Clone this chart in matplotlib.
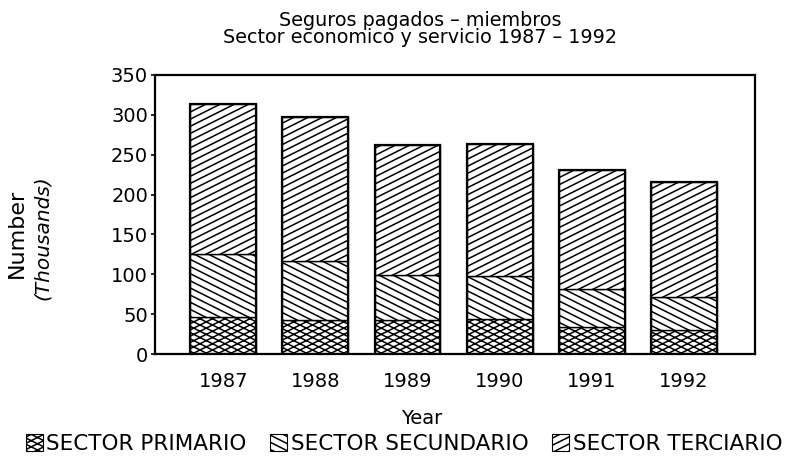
import warnings
warnings.filterwarnings("ignore")
import matplotlib
matplotlib.use("Agg")
import matplotlib.pyplot as plt
import matplotlib.hatch as mhatch
from matplotlib.path import Path
from matplotlib.patches import Patch
import numpy as np

years = ["1987", "1988", "1989", "1990", "1991", "1992"]
primario = [47, 43, 43, 44, 34, 30]
secundario = [79, 74, 56, 54, 48, 41]
terciario = [187, 180, 163, 166, 149, 145]
series_names = ["SECTOR PRIMARIO", "SECTOR SECUNDARIO", "SECTOR TERCIARIO"]
yticks = [0, 50, 100, 150, 200, 250, 300, 350]


class ShallowHatch(mhatch.HatchPatternBase):
    """Shallow (slope 1/2) line hatches: 'r' rising, 'l' falling, 'c' cross."""
    def __init__(self, hatch, density):
        segs = []
        def add(n, sign):
            for k in range(-2 * n, 2 * n + 1):
                c = k / n
                y1 = c + sign * 0.5
                if max(c, y1) < 0 or min(c, y1) > 1:
                    continue
                segs.append(((0.0, c), (1.0, y1)))
        if 'r' in hatch:
            add(14, 1)
        if 'l' in hatch:
            add(14, -1)
        if 'c' in hatch:
            add(16, 1)
            add(16, -1)
        self.segs = segs
        self.num_vertices = 2 * len(segs)

    def set_vertices_and_codes(self, vertices, codes):
        for i, (a, b) in enumerate(self.segs):
            vertices[2 * i] = a
            vertices[2 * i + 1] = b
            codes[2 * i] = Path.MOVETO
            codes[2 * i + 1] = Path.LINETO


mhatch._hatch_types.append(ShallowHatch)

plt.rcParams['font.family'] = ['DejaVu Sans']
plt.rcParams['hatch.linewidth'] = 1.1

fig = plt.figure(figsize=(8.04, 4.58), dpi=100)
ax = fig.add_axes([155/804, 1-354/458, 600/804, 279/458])

x = np.arange(len(years))
w = 0.715
hatches = ["c", "l", "r"]
series = [primario, secundario, terciario]
bottom = np.zeros(len(years))
for vals, h in zip(series, hatches):
    ax.bar(x, vals, width=w, bottom=bottom, facecolor="white", edgecolor="black",
           hatch=h, linewidth=1.0)
    bottom += np.array(vals)
ax.bar(x, bottom, width=w, facecolor="none", edgecolor="black", linewidth=1.6)

ax.set_xlim(-0.74, 5.77)
ax.set_ylim(0, 350)
ax.set_yticks(yticks)
ax.set_xticks(x)
ax.set_xticklabels(years)
ax.tick_params(axis='x', length=0, pad=13, labelsize=14)
ax.tick_params(axis='y', length=3, width=1.2, direction='out', pad=2, labelsize=14)
for s in ax.spines.values():
    s.set_linewidth(1.6)

fig.text(420/804, 1-29/458, "Seguros pagados – miembros\nSector economico y servicio 1987 – 1992",
         ha='center', va='center', fontsize=13.8, linespacing=0.85)

fig.text(17/804, 1-233/458, "Number", rotation=90, ha='center', va='center', fontsize=16)
fig.text(42/804, 1-238/458, "(Thousands)", rotation=90, ha='center', va='center', fontsize=14.5,
         style='italic')

fig.text(422/804, 1-419/458, "Year", ha='center', va='center', fontsize=14)

handles = [Patch(facecolor='white', edgecolor='black', hatch=h, linewidth=0.8) for h in hatches]
fig.legend(handles, series_names, loc='center', bbox_to_anchor=(404/804, 1-444/458), ncol=3,
           frameon=False, fontsize=15.5, handlelength=0.8, handleheight=0.8, handletextpad=0.15,
           columnspacing=1.1, borderaxespad=0, borderpad=0)

fig.savefig("out.png", dpi=100)
